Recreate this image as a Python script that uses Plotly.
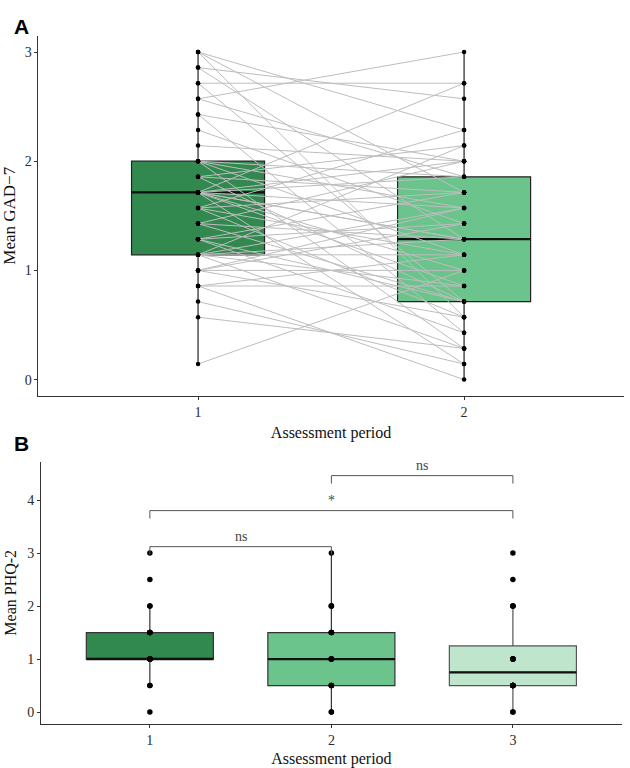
"""Paired GAD-7 and PHQ-2 box plots by assessment period."""
import numpy as np
import plotly.graph_objects as go

# Panel A: GAD-7 sum scores (7 items), same participant at index i in both lists
gad7_total_t1 = [21, 21, 21, 20, 20, 19, 19, 18, 18, 17, 17, 16, 15,
                 14, 14, 14, 14, 13, 13, 13,
                 12, 12, 12, 12, 12, 12, 12, 12, 12,
                 11, 11, 11, 11, 10, 10, 10, 9, 9, 9, 9,
                 8, 8, 8, 8, 8, 8, 7, 7, 7, 7, 6, 6, 6, 5, 4, 1]
gad7_total_t2 = [16, 12, 4, 18, 9, 19, 5, 21, 13, 14, 3, 10, 14,
                 13, 8, 2, 11, 12, 5, 15,
                 9, 11, 6, 13, 1, 14, 7, 19, 9,
                 16, 8, 12, 4, 14, 9, 5, 12, 5, 3, 10,
                 15, 11, 9, 2, 8, 6, 10, 7, 4, 11, 8, 6, 0, 1, 2, 7]
gad7_items = 7

# Panel B: mean PHQ-2 per assessment period
phq2_p1 = [0, 0.5, 0.5, 1, 1, 1, 1, 1, 1, 1, 1,
           1.5, 1.5, 1.5, 1.5, 1.5, 2, 2, 2.5, 3]
phq2_p2 = [0, 0, 0.5, 0.5, 0.5, 0.5, 1, 1, 1, 1, 1, 1,
           1.5, 1.5, 1.5, 1.5, 2, 2, 2, 3]
phq2_p3 = [0, 0, 0.5, 0.5, 0.5, 0.5, 0.5, 0.5, 0.5, 0.5,
           1, 1, 1, 1, 1, 2, 2, 2, 2.5, 3]

# significance brackets (pairs of periods, bracket height, label)
sig_pairs = [(1, 2), (1, 3), (2, 3)]
sig_height = [3.12, 3.80, 4.46]
sig_label = ["ns", "*", "ns"]

green_dark = "#32894f"
green_mid = "#6bc48c"
green_light = "#bfe5cc"
serif = "Liberation Serif"


def box_stats(values):
    """Quartiles and ggplot-style whisker ends."""
    v = np.asarray(values, dtype=float)
    q1, med, q3 = np.percentile(v, [25, 50, 75])
    iqr = q3 - q1
    lo = v[v >= q1 - 1.5 * iqr].min()
    hi = v[v <= q3 + 1.5 * iqr].max()
    return q1, med, q3, lo, hi


def add_box(fig, values, pos, color, width, xa, ya, edge="#222222"):
    q1, med, q3, lo, hi = box_stats(values)
    fig.add_trace(go.Box(
        x=[pos], q1=[q1], median=[med], q3=[q3],
        lowerfence=[lo], upperfence=[hi], width=width,
        fillcolor=color, line=dict(color=edge, width=1.2),
        whiskerwidth=0, boxpoints=False, hoverinfo="skip",
        xaxis=xa, yaxis=ya, showlegend=False))
    fig.add_trace(go.Scatter(
        x=[pos - width / 2, pos + width / 2], y=[med, med], mode="lines",
        line=dict(color="#111111", width=2.2), hoverinfo="skip",
        xaxis=xa, yaxis=ya, showlegend=False))


fig = go.Figure()

gad_t1 = np.array(gad7_total_t1) / gad7_items
gad_t2 = np.array(gad7_total_t2) / gad7_items

add_box(fig, gad_t1, 1, green_dark, 0.5, "x", "y")
add_box(fig, gad_t2, 2, green_mid, 0.5, "x", "y")

# paired lines
lx, ly = [], []
for a, b in zip(gad_t1, gad_t2):
    lx += [1, 2, None]
    ly += [a, b, None]
fig.add_trace(go.Scatter(x=lx, y=ly, mode="lines",
                         line=dict(color="#bdbdbd", width=1),
                         hoverinfo="skip", showlegend=False))
fig.add_trace(go.Scatter(
    x=[1] * len(gad_t1) + [2] * len(gad_t2),
    y=list(gad_t1) + list(gad_t2), mode="markers",
    marker=dict(color="black", size=4.5), showlegend=False))

# panel B
phq = [phq2_p1, phq2_p2, phq2_p3]
cols_b = [green_dark, green_mid, green_light]
for i, (vals, col) in enumerate(zip(phq, cols_b)):
    add_box(fig, vals, i + 1, col, 0.7, "x2", "y2",
            edge="#333333" if i < 2 else "#555555")
for i, vals in enumerate(phq):
    fig.add_trace(go.Scatter(x=[i + 1] * len(vals), y=vals, mode="markers",
                             marker=dict(color="black", size=5.5),
                             xaxis="x2", yaxis="y2", showlegend=False))

tip = 0.15
bx, by = [], []
for (g1, g2), h in zip(sig_pairs, sig_height):
    bx += [g1, g1, g2, g2, None]
    by += [h - tip, h, h, h - tip, None]
fig.add_trace(go.Scatter(x=bx, y=by, mode="lines",
                         line=dict(color="#555555", width=1),
                         xaxis="x2", yaxis="y2", hoverinfo="skip",
                         showlegend=False))
for (g1, g2), h, lab in zip(sig_pairs, sig_height, sig_label):
    fig.add_annotation(x=(g1 + g2) / 2, y=h, xref="x2", yref="y2",
                       text=lab, showarrow=False, yanchor="bottom", yshift=1,
                       font=dict(family=serif, size=14, color="#444444"))

axis_common = dict(showline=True, linecolor="#333333", linewidth=1,
                   ticks="outside", ticklen=3, tickcolor="#333333",
                   showgrid=False, zeroline=False,
                   tickfont=dict(family=serif, size=14, color="#2b2b2b"))

fig.update_layout(
    width=630, height=768, plot_bgcolor="white", paper_bgcolor="white",
    margin=dict(l=0, r=0, t=0, b=0), showlegend=False,
    xaxis=dict(axis_common, domain=[0.061, 0.990], range=[0.4, 2.6],
               tickvals=[1, 2], anchor="y",
               title=dict(text="Assessment period", standoff=8,
                          font=dict(family=serif, size=16, color="#111111"))),
    yaxis=dict(axis_common, domain=[0.4844, 0.9536], range=[-0.15, 3.15],
               tickvals=[0, 1, 2, 3], anchor="x",
               title=dict(text="Mean GAD\u22127", standoff=6,
                          font=dict(family=serif, size=17, color="#111111"))),
    xaxis2=dict(axis_common, domain=[0.065, 0.987], range=[0.4, 3.6],
                tickvals=[1, 2, 3], anchor="y2",
                title=dict(text="Assessment period", standoff=6,
                           font=dict(family=serif, size=16, color="#111111"))),
    yaxis2=dict(axis_common, domain=[0.0573, 0.399], range=[-0.225, 4.725],
                tickvals=[0, 1, 2, 3, 4], anchor="x2",
                title=dict(text="Mean PHQ-2", standoff=6,
                           font=dict(family=serif, size=16, color="#111111"))),
)

for letter, ypos in [("A", 1 - 13 / 768), ("B", 1 - 443 / 768)]:
    fig.add_annotation(x=12 / 630, y=ypos, xref="paper", yref="paper",
                       text="<b>%s</b>" % letter, showarrow=False,
                       font=dict(family="Liberation Sans", size=21,
                                 color="black"))

# the page's default body margin would push the figure off the window
fig.write_html("out.html", config={"displayModeBar": False},
               post_script="document.body.style.margin='0';"
                           "document.body.style.overflow='hidden';")
